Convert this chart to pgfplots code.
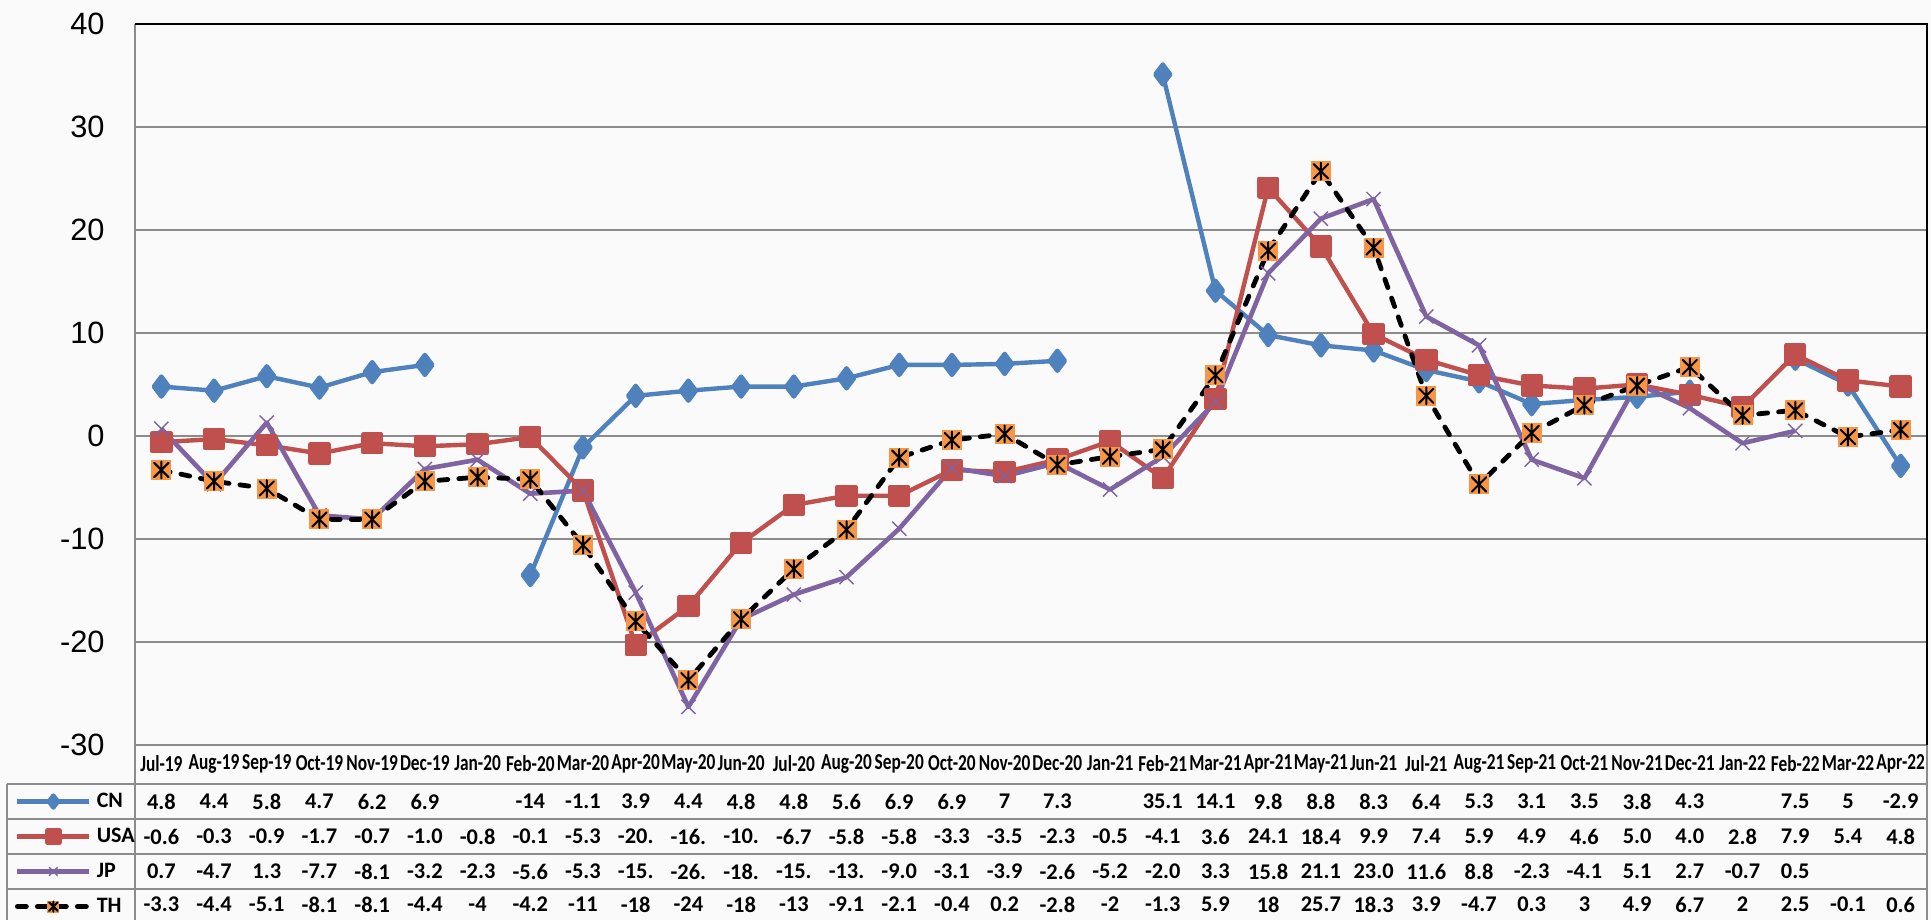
\documentclass[border=0pt]{standalone}
\usepackage{pgfplots}
\pgfplotsset{compat=1.18}
\usepackage{pgfplotstable}
\usepackage{fontspec}
\setmainfont{Carlito}
\newfontfamily\arialf{Liberation Sans}
\definecolor{cncol}{HTML}{4F81BD}
\definecolor{usacol}{HTML}{C0504D}
\definecolor{jpcol}{HTML}{8064A2}
\definecolor{thcol}{HTML}{F79646}
\definecolor{gridc}{HTML}{8C8C8C}
\pgfdeclareplotmark{thstar}{%
  \pgfscope
  \pgfpathrectangle{\pgfqpoint{-\pgfplotmarksize}{-\pgfplotmarksize}}{\pgfqpoint{2\pgfplotmarksize}{2\pgfplotmarksize}}%
  \pgfsetfillcolor{thcol}\pgfusepath{fill}%
  \pgfsetstrokecolor{black}\pgfsetlinewidth{1pt}\pgfsetroundcap
  \pgfpathmoveto{\pgfqpoint{-0.72\pgfplotmarksize}{-0.72\pgfplotmarksize}}%
  \pgfpathlineto{\pgfqpoint{0.72\pgfplotmarksize}{0.72\pgfplotmarksize}}%
  \pgfpathmoveto{\pgfqpoint{-0.72\pgfplotmarksize}{0.72\pgfplotmarksize}}%
  \pgfpathlineto{\pgfqpoint{0.72\pgfplotmarksize}{-0.72\pgfplotmarksize}}%
  \pgfpathmoveto{\pgfqpoint{0pt}{-0.85\pgfplotmarksize}}%
  \pgfpathlineto{\pgfqpoint{0pt}{0.85\pgfplotmarksize}}%
  \pgfusepath{stroke}%
  \endpgfscope
}
\pgfplotstableread{
x lab cn cnl usa usal jp jpl th thl
0 Jul-19 4.8 4.8 -0.6 -0.6 0.7 0.7 -3.3 -3.3
1 Aug-19 4.4 4.4 -0.3 -0.3 -4.7 -4.7 -4.4 -4.4
2 Sep-19 5.8 5.8 -0.9 -0.9 1.3 1.3 -5.1 -5.1
3 Oct-19 4.7 4.7 -1.7 -1.7 -7.7 -7.7 -8.1 -8.1
4 Nov-19 6.2 6.2 -0.7 -0.7 -8.1 -8.1 -8.1 -8.1
5 Dec-19 6.9 6.9 -1.0 -1.0 -3.2 -3.2 -4.4 -4.4
6 Jan-20 nan {} -0.8 -0.8 -2.3 -2.3 -4 -4
7 Feb-20 -13.5 -14 -0.1 -0.1 -5.6 -5.6 -4.2 -4.2
8 Mar-20 -1.1 -1.1 -5.3 -5.3 -5.3 -5.3 -10.6 -11
9 Apr-20 3.9 3.9 -20.3 -20. -15.2 -15. -18 -18
10 May-20 4.4 4.4 -16.5 -16. -26.3 -26. -23.7 -24
11 Jun-20 4.8 4.8 -10.4 -10. -17.8 -18. -17.8 -18
12 Jul-20 4.8 4.8 -6.7 -6.7 -15.4 -15. -12.9 -13
13 Aug-20 5.6 5.6 -5.8 -5.8 -13.7 -13. -9.1 -9.1
14 Sep-20 6.9 6.9 -5.8 -5.8 -9.0 -9.0 -2.1 -2.1
15 Oct-20 6.9 6.9 -3.3 -3.3 -3.1 -3.1 -0.4 -0.4
16 Nov-20 7 7 -3.5 -3.5 -3.9 -3.9 0.2 0.2
17 Dec-20 7.3 7.3 -2.3 -2.3 -2.6 -2.6 -2.8 -2.8
18 Jan-21 nan {} -0.5 -0.5 -5.2 -5.2 -2 -2
19 Feb-21 35.1 35.1 -4.1 -4.1 -2.0 -2.0 -1.3 -1.3
20 Mar-21 14.1 14.1 3.6 3.6 3.3 3.3 5.9 5.9
21 Apr-21 9.8 9.8 24.1 24.1 15.8 15.8 18 18
22 May-21 8.8 8.8 18.4 18.4 21.1 21.1 25.7 25.7
23 Jun-21 8.3 8.3 9.9 9.9 23.0 23.0 18.3 18.3
24 Jul-21 6.4 6.4 7.4 7.4 11.6 11.6 3.9 3.9
25 Aug-21 5.3 5.3 5.9 5.9 8.8 8.8 -4.7 -4.7
26 Sep-21 3.1 3.1 4.9 4.9 -2.3 -2.3 0.3 0.3
27 Oct-21 3.5 3.5 4.6 4.6 -4.1 -4.1 3 3
28 Nov-21 3.8 3.8 5.0 5.0 5.1 5.1 4.9 4.9
29 Dec-21 4.3 4.3 4.0 4.0 2.7 2.7 6.7 6.7
30 Jan-22 nan {} 2.8 2.8 -0.7 -0.7 2 2
31 Feb-22 7.5 7.5 7.9 7.9 0.5 0.5 2.5 2.5
32 Mar-22 5 5 5.4 5.4 nan {} -0.1 -0.1
33 Apr-22 -2.9 -2.9 4.8 4.8 nan {} 0.6 0.6
}\data
\begin{document}
\begin{tikzpicture}
\useasboundingbox (-67.5pt,-87.5pt) rectangle (898pt,372.5pt);
\fill[black!2] (-67.5pt,-87.5pt) rectangle (898pt,372.5pt);
\begin{axis}[
  at={(0,0)}, anchor=south west,
  scale only axis, width=896pt, height=360.5pt,
  xmin=-0.5, xmax=33.5, ymin=-30, ymax=40,
  xtick=\empty,
  ytick={-30,-20,-10,0,10,20,30,40},
  yticklabels={-30,-20,-10,0,10,20,30,40},
  yticklabel style={font=\arialf\fontsize{15.4}{18}\selectfont, anchor=east, inner sep=0pt, xshift=-15pt},
  major tick length=0pt,
  ymajorgrids, grid style={gridc, line width=1pt},
  axis line style={draw=none},
  clip=false,
  unbounded coords=jump,
  legend image code/.code={\draw[mark repeat=2,mark phase=2,#1] plot coordinates {(0pt,0pt) (18pt,0pt) (36pt,0pt)};},
  legend image post style={mark size=3pt},
  legend style={at={(axis cs:-2.777,-33.79)}, anchor=north west, draw=none, fill=none, inner sep=0pt, outer sep=0pt, row sep=0pt, column sep=2.5pt, font=\bfseries\fontsize{11}{13}\selectfont, nodes={inner sep=0pt, minimum height=17.5pt, anchor=west}},
  legend cell align=left,
  every node near coord/.append style={anchor=center, inner sep=0pt, font=\bfseries\fontsize{11.2}{13}\selectfont, text=black},
]
\addplot[cncol, line width=2.2pt, line join=round, mark=diamond*, mark size=5pt, mark options={solid}] table[x=x,y=cn]{\data};
\addlegendentry{CN}
\addplot[usacol, line width=2.2pt, line join=round, mark=square*, mark size=4.5pt, mark options={solid}] table[x=x,y=usa]{\data};
\addlegendentry{USA}
\addplot[jpcol, line width=2.3pt, line join=round, mark=x, mark size=5pt, mark options={solid, line width=0.7pt}] table[x=x,y=jp]{\data};
\addlegendentry{JP}
\addplot[black, line width=2.4pt, line join=round, line cap=round, dash pattern=on 4.5pt off 5.5pt, mark=thstar, mark size=5pt, mark options={solid}] table[x=x,y=th]{\data};
\addlegendentry{TH}
\addplot[draw=none, forget plot, point meta=explicit symbolic, nodes near coords, every node near coord/.append style={font=\bfseries\fontsize{11.4}{13}\selectfont, xscale=0.76}] table[x=x, y expr=-31.8, meta=lab]{\data};
\addplot[draw=none, forget plot, point meta=explicit symbolic, nodes near coords] table[x=x, y expr=-35.49, meta=cnl]{\data};
\addplot[draw=none, forget plot, point meta=explicit symbolic, nodes near coords] table[x=x, y expr=-38.88, meta=usal]{\data};
\addplot[draw=none, forget plot, point meta=explicit symbolic, nodes near coords] table[x=x, y expr=-42.28, meta=jpl]{\data};
\addplot[draw=none, forget plot, point meta=explicit symbolic, nodes near coords] table[x=x, y expr=-45.49, meta=thl]{\data};
\draw[gridc, line width=1pt] (axis cs:-0.5,40) -- (axis cs:-0.5,-46.99);
\draw[black, line width=1.2pt] (axis cs:-0.5,40) -- (axis cs:33.5,40) -- (axis cs:33.5,-30);
\draw[gridc, line width=1pt] (axis cs:33.5,-30) -- (axis cs:33.5,-46.99);
\draw[gridc, line width=1pt] (axis cs:-2.93,-33.79) -- (axis cs:33.5,-33.79);
\draw[gridc, line width=1pt] (axis cs:-2.93,-37.18) -- (axis cs:33.5,-37.18);
\draw[gridc, line width=1pt] (axis cs:-2.93,-40.58) -- (axis cs:33.5,-40.58);
\draw[gridc, line width=1pt] (axis cs:-2.93,-43.98) -- (axis cs:33.5,-43.98);
\draw[gridc, line width=1pt] (axis cs:-2.93,-33.79) -- (axis cs:-2.93,-46.99);
\end{axis}
\end{tikzpicture}
\end{document}
